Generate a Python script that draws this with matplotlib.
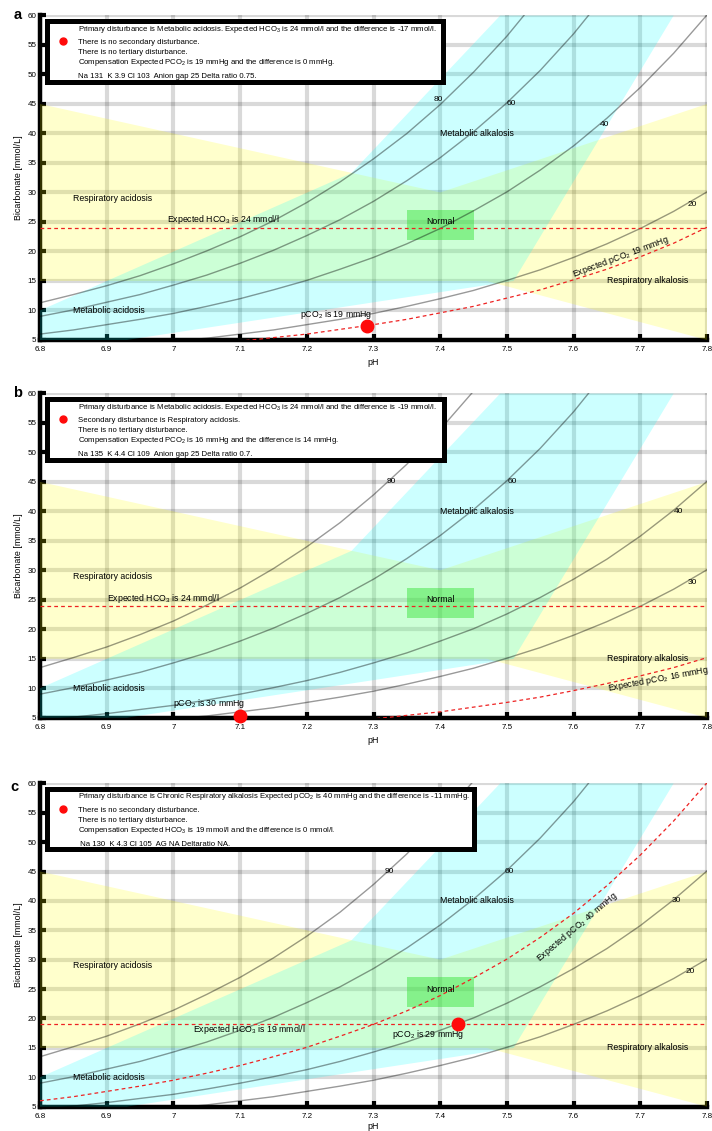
import matplotlib
matplotlib.use('Agg')
import matplotlib.pyplot as plt
from matplotlib.patches import Polygon, Rectangle

plt.rcParams['font.family'] = ['Liberation Sans', 'DejaVu Sans']
plt.rcParams['mathtext.fontset'] = 'custom'
plt.rcParams['mathtext.rm'] = 'Liberation Sans'
plt.rcParams['mathtext.default'] = 'regular'

# pH positions where the curves were read
ph = [6.8, 6.85, 6.9, 6.95, 7.0, 7.05, 7.1, 7.15, 7.2, 7.25, 7.3,
      7.35, 7.4, 7.45, 7.5, 7.55, 7.6, 7.65, 7.7, 7.75, 7.8]

# pCO2 isobars (bicarbonate, mmol/L)
iso_90 = [13.5, 15.2, 17.0, 19.1, 21.4, 24.1, 27.0, 30.3, 34.0, 38.1, 42.8, 48.0, 53.9, 60.4]
iso_80 = [11.3, 12.7, 14.2, 15.9, 17.9, 20.1, 22.5, 25.2, 28.3, 31.8, 35.7, 40.0, 44.9, 50.4, 56.5, 63.4]
iso_60 = [9.0, 10.1, 11.4, 12.7, 14.3, 16.0, 18.0, 20.2, 22.7, 25.4, 28.5, 32.0, 35.9, 40.3, 45.2, 50.7, 56.9, 63.9]
iso_40 = [6.0, 6.7, 7.6, 8.5, 9.5, 10.7, 12.0, 13.5, 15.1, 17.0, 19.0, 21.3, 23.9, 26.9, 30.1, 33.8, 37.9, 42.6, 47.8, 53.6, 60.1]
iso_30 = [4.5, 5.1, 5.7, 6.4, 7.1, 8.0, 9.0, 10.1, 11.3, 12.7, 14.3, 16.0, 18.0, 20.1, 22.6, 25.4, 28.5, 31.9, 35.8, 40.2, 45.1]
iso_20 = [3.0, 3.4, 3.8, 4.2, 4.8, 5.3, 6.0, 6.7, 7.6, 8.5, 9.5, 10.7, 12.0, 13.4, 15.1, 16.9, 19.0, 21.3, 23.9, 26.8, 30.1]

# expected pCO2 curves (red dashed)
exp_pco2_a = [2.4, 2.7, 3.0, 3.4, 3.8, 4.3, 4.8, 5.4, 6.0, 6.8, 7.6, 8.5, 9.6, 10.7, 12.1, 13.5, 15.2, 17.0, 19.1, 21.4, 24.1]
exp_pco2_b = [1.5, 1.7, 1.9, 2.1, 2.4, 2.7, 3.0, 3.4, 3.8, 4.3, 4.8, 5.4, 6.0, 6.8, 7.6, 8.5, 9.6, 10.8, 12.1, 13.5, 15.2]
exp_pco2_c = iso_40

# regions
resp_ph = [6.8, 6.8, 7.4, 7.8, 7.8, 7.47, 6.8]
resp_hco3 = [15, 45, 30, 45, 5, 15, 15]
meta_ph = [6.8, 6.8, 7.267, 7.49, 7.75, 7.51, 6.93]
meta_hco3 = [5, 10, 33.3, 60, 60, 15, 5]
normal_ph = [7.35, 7.45]
normal_hco3 = [22, 27]

ph_ticks = [6.8, 6.9, 7.0, 7.1, 7.2, 7.3, 7.4, 7.5, 7.6, 7.7, 7.8]
ph_labels = ['6.8', '6.9', '7', '7.1', '7.2', '7.3', '7.4', '7.5', '7.6', '7.7', '7.8']
hco3_ticks = [5, 10, 15, 20, 25, 30, 35, 40, 45, 50, 55, 60]

# per panel data
panels = ['a', 'b', 'c']
isobars = {'a': [iso_80, iso_60, iso_40, iso_20],
           'b': [iso_90, iso_60, iso_30, iso_20],
           'c': [iso_90, iso_60, iso_30, iso_20]}
iso_labels = {'a': ['80', '60', '40', '20'],
              'b': ['90', '60', '40', '30'],
              'c': ['90', '60', '30', '20']}
iso_label_pos = {'a': [(7.397, 45.7), (7.507, 45.0), (7.647, 41.5), (7.778, 28.0)],
                 'b': [(7.326, 45.0), (7.508, 45.0), (7.757, 40.0), (7.778, 28.0)],
                 'c': [(7.324, 45.0), (7.504, 45.0), (7.754, 40.0), (7.775, 28.0)]}
exp_curves = {'a': exp_pco2_a, 'b': exp_pco2_b, 'c': exp_pco2_c}
exp_hco3 = {'a': 24, 'b': 24, 'c': 19}
exp_hco3_text = {'a': ('Expected HCO$_3$ is 24 mmol/l', 6.99, 25.4),
                 'b': ('Expected HCO$_3$ is 24 mmol/l', 6.90, 25.3),
                 'c': ('Expected HCO$_3$ is 19 mmol/l', 7.03, 18.1)}
exp_pco2_text = {'a': ('Expected pCO$_2$ 19 mmHg', 7.598, 16.1, 20.5),
                 'b': ('Expected pCO$_2$ 16 mmHg', 7.652, 10.0, 10.6),
                 'c': ('Expected pCO$_2$ 40 mmHg', 7.547, 29.9, 40.0)}
patient = {'a': (7.29, 7.4), 'b': (7.10, 5.3), 'c': (7.427, 19.0)}
patient_text = {'a': ('pCO$_2$ is 19 mmHg', 7.19, 9.4),
                'b': ('pCO$_2$ is 30 mmHg', 7.00, 7.4),
                'c': ('pCO$_2$ is 29 mmHg', 7.328, 17.2)}
legend_lines = {
    'a': ['Primary disturbance is Metabolic acidosis. Expected HCO$_3$ is 24 mmol/l and the difference is -17 mmol/l.',
          'There is no secondary disturbance.',
          'There is no tertiary disturbance.',
          'Compensation Expected PCO$_2$ is 19 mmHg and the difference is 0 mmHg.',
          'Na 131  K 3.9 Cl 103  Anion gap 25 Delta ratio 0.75.'],
    'b': ['Primary disturbance is Metabolic acidosis. Expected HCO$_3$ is 24 mmol/l and the difference is -19 mmol/l.',
          'Secondary disturbance is Respiratory acidosis.',
          'There is no tertiary disturbance.',
          'Compensation Expected PCO$_2$ is 16 mmHg and the difference is 14 mmHg.',
          'Na 135  K 4.4 Cl 109  Anion gap 25 Delta ratio 0.7.'],
    'c': ['Primary disturbance is Chronic Respiratory alkalosis Expected pCO$_2$ is 40 mmHg and the difference is -11 mmHg.',
          'There is no secondary disturbance.',
          'There is no tertiary disturbance.',
          'Compensation Expected HCO$_3$ is 19 mmol/l and the difference is 0 mmol/l.',
          ' Na 130  K 4.3 Cl 105  AG NA Deltaratio NA.'],
}
legend_right = {'a': 7.404, 'b': 7.405, 'c': 7.451}

# layout (figure fractions)
ax_pos = {'a': [0.0562, 0.6994, 0.9368, 0.2869],
          'b': [0.0562, 0.3654, 0.9368, 0.2867],
          'c': [0.0562, 0.0215, 0.9368, 0.2859]}
letter_pos = {'a': (0.025, 0.9868), 'b': (0.024, 0.6528), 'c': (0.020, 0.3045)}
xlabel_pad = {'a': 3.5, 'b': 3.5, 'c': 1.5}

fig = plt.figure(figsize=(7.12, 11.31), dpi=100)

for p in panels:
    ax = fig.add_axes(ax_pos[p])
    ax.set_xlim(6.8, 7.8)
    ax.set_ylim(5, 60)

    for s in ['top', 'right']:
        ax.spines[s].set_visible(False)
    for s in ['left', 'bottom']:
        ax.spines[s].set_linewidth(3.2)

    ax.set_xticks(ph_ticks)
    ax.set_xticklabels(ph_labels)
    ax.set_yticks(hco3_ticks)
    ax.tick_params(direction='in', length=4.5, width=3, labelsize=5.8)
    ax.tick_params(axis='x', pad=4.5)
    ax.tick_params(axis='y', pad=2.5)
    ax.grid(True, color='k', alpha=0.15, linewidth=3)
    ax.set_xlabel('pH', fontsize=6.4, labelpad=xlabel_pad[p])
    ax.set_ylabel('Bicarbonate [mmol/L]', fontsize=6.4, labelpad=3)

    # shaded regions, drawn over the axis lines like the original
    ax.add_patch(Polygon(list(zip(resp_ph, resp_hco3)), closed=True,
                         facecolor='yellow', alpha=0.2, edgecolor='none', zorder=3))
    ax.add_patch(Polygon(list(zip(meta_ph, meta_hco3)), closed=True,
                         facecolor='cyan', alpha=0.2, edgecolor='none', zorder=3))
    ax.add_patch(Rectangle((normal_ph[0], normal_hco3[0]), normal_ph[1] - normal_ph[0],
                           normal_hco3[1] - normal_hco3[0], facecolor='#30e030',
                           alpha=0.45, edgecolor='none', zorder=3))

    # isobars
    for vals, lab, pos in zip(isobars[p], iso_labels[p], iso_label_pos[p]):
        ax.plot(ph[:len(vals)], vals, color='k', alpha=0.4, linewidth=1.0, zorder=4)
        ax.text(pos[0], pos[1], lab, fontsize=6, ha='center', va='center', zorder=5)

    # expected values
    ax.axhline(exp_hco3[p], color='#ee2222', linestyle=(0, (3, 2.5)), linewidth=0.9, zorder=5)
    t, x, y = exp_hco3_text[p]
    ax.text(x, y, t, fontsize=6.3, ha='left', va='center', zorder=5)
    ax.plot(ph, exp_curves[p], color='#ee2222', linestyle=(0, (3, 2.5)), linewidth=0.9, zorder=5)
    t, x, y, r = exp_pco2_text[p]
    ax.text(x, y, t, fontsize=6.3, ha='left', va='center', rotation=r,
            rotation_mode='anchor', zorder=5)

    # region names
    ax.text(6.85, 29, 'Respiratory acidosis', fontsize=6.3, va='center', zorder=5)
    ax.text(6.85, 10, 'Metabolic acidosis', fontsize=6.3, va='center', zorder=5)
    ax.text(7.40, 40, 'Metabolic alkalosis', fontsize=6.3, va='center', zorder=5)
    ax.text(7.65, 15, 'Respiratory alkalosis', fontsize=6.3, va='center', zorder=5)
    ax.text(7.40, 25, 'Normal', fontsize=6.3, ha='center', va='center', zorder=5)

    # patient point
    ax.plot(*patient[p], 'o', color='#ff0a0a', markersize=9, zorder=7, clip_on=False)
    t, x, y = patient_text[p]
    ax.text(x, y, t, fontsize=6.3, ha='left', va='center', zorder=5)

    # legend box
    ax.add_patch(Rectangle((6.81, 48.8), legend_right[p] - 6.81, 10.2, facecolor='white',
                           edgecolor='black', linewidth=3.6, zorder=8))
    ax.plot(6.834, 55.7, 'o', color='#ff0a0a', markersize=5, zorder=9)
    for line, yy in zip(legend_lines[p], [57.7, 55.4, 53.7, 52.0, 49.6]):
        ax.text(6.857, yy, line, fontsize=5.6, ha='left', va='center', zorder=9)

    fig.text(letter_pos[p][0], letter_pos[p][1], p, fontsize=10.5, fontweight='bold',
             ha='center', va='center')

fig.savefig('out.png', dpi=100)
